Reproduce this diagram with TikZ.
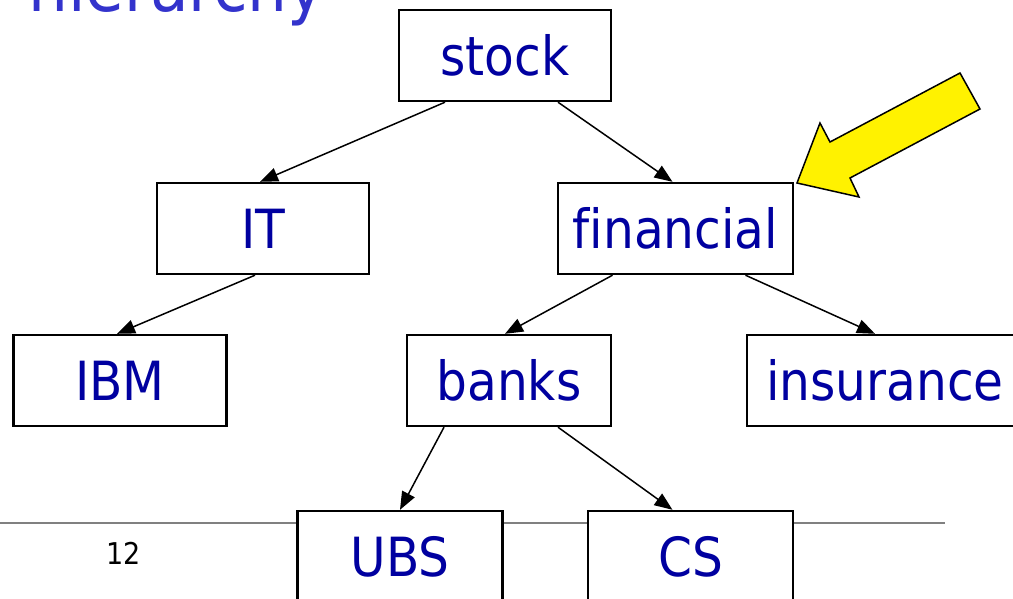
\documentclass[tikz,border=0pt]{standalone}
\usepackage{fontspec}
\setmainfont{DejaVu Sans Condensed}[Ligatures=NoCommon]
\usepackage{xcolor}
\usepackage{tikz}
\usetikzlibrary{arrows.meta,calc}

\definecolor{navytext}{RGB}{0,0,160}
\definecolor{titleblue}{RGB}{51,51,204}

\begin{document}
\begin{tikzpicture}[x=1pt, y=-1pt, every node/.style={font=\fontsize{54}{62}\selectfont},
  box/.style={rectangle, draw, line width=2.4pt, fill=white, text=navytext, minimum height=91pt, text height=39pt, text depth=0pt, inner sep=0pt},
  link/.style={-{Triangle[length=18pt,width=14pt]}, line width=1.5pt}]

\useasboundingbox (0,0) rectangle (1013,598);
\clip (0,0) rectangle (1013,598);

\node[anchor=base west, inner sep=0pt, text=titleblue, font=\fontsize{70}{80}\selectfont] (title) at (28,11) {hierarchy};

\coordinate (rulestart) at (0,523);
\coordinate (ruleend) at (945,523);
\draw[gray, line width=1.5pt] (rulestart) -- (ruleend);

\node[inner sep=0pt, font=\fontsize{30}{34}\selectfont] (pagenum) at (124,553) {12};

\node[box, minimum width=212pt] (stock) at (505,55.5) {stock};

\node[box, minimum width=212pt] (it) at (263,228.5) {IT};

\node[box, minimum width=235pt] (financial) at (675.5,228.5) {financial};

\node[box, minimum width=213pt] (ibm) at (120,380.5) {IBM};

\node[box, minimum width=204pt] (banks) at (509,380.5) {banks};

\node[box, minimum width=300pt] (insurance) at (897,380.5) {insurance\hspace*{24pt}};

\node[box, minimum width=205pt] (ubs) at (400,556.5) {UBS};

\node[box, minimum width=205pt] (cs) at (690.5,556.5) {CS};

\draw[link] ($(stock.south)+(-60,0)$) -- ($(it.north)+(-3,0)$);
\draw[link] ($(stock.south)+(53,0)$) -- ($(financial.north)+(-3,0)$);
\draw[link] ($(it.south)+(-8,0)$) -- ($(ibm.north)+(-3,0)$);
\draw[link] ($(financial.south)+(-63,0)$) -- ($(banks.north)+(-4,0)$);
\draw[link] ($(financial.south)+(70,0)$) -- ($(insurance.north)+(-22,0)$);
\draw[link] ($(banks.south)+(-65,0)$) -- (ubs.north);
\draw[link] ($(banks.south)+(49,0)$) -- ($(cs.north)+(-18,0)$);

% pointer to the financial box
\filldraw[fill=yellow, draw=black, line width=1.5pt, line join=miter]
  (797,183) -- (820,123) -- (830,142) -- (960,73) -- (980,109) -- (850,178) -- (859,197) -- cycle;

\end{tikzpicture}
\end{document}
